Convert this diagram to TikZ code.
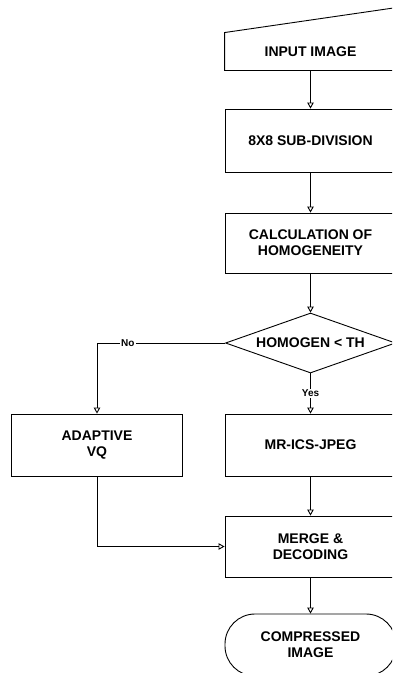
\documentclass[tikz,border=0pt]{standalone}
\usepackage{fontspec}
\setmainfont{Liberation Sans}
\usetikzlibrary{arrows.meta}
\usetikzlibrary{shapes}

\begin{document}
\begin{tikzpicture}[x=1pt, y=-1pt, line width=0.9pt, >={Triangle[open, width=6.5pt, length=6pt]},
    every node/.style={font=\bfseries\fontsize{14}{16}\selectfont, align=center},
    stage/.style={draw, rectangle, minimum width=171pt, minimum height=62pt, inner sep=0pt},
    choice/.style={draw, diamond, aspect=2.8, minimum width=170pt, minimum height=60pt, inner sep=0pt},
    ends/.style={draw, rectangle, rounded corners=30pt, minimum width=171pt, minimum height=62pt, inner sep=0pt},
    tag/.style={fill=white, inner sep=1.5pt, font=\bfseries\fontsize{10}{12}\selectfont}]
    \useasboundingbox (0,0) rectangle (392,673);
    \clip (0,0) rectangle (392,673);

    \node[stage, draw=none, minimum height=37pt] (In) at (310.5, 51.5) {INPUT IMAGE};
    \node[stage, minimum height=63pt] (Div)   at (310.5, 140.5) {8X8 SUB-DIVISION};
    \node[stage, minimum height=60pt] (Hom)   at (310.5, 243) {CALCULATION OF\\ HOMOGENEITY};
    \node[choice]                     (Th)    at (310.5, 343) {HOMOGEN < TH};
    \node[stage]                      (VQ)    at (97, 445)    {ADAPTIVE\\ VQ};
    \node[stage]                      (Jpeg)  at (310.5, 445) {MR-ICS-JPEG};
    \node[stage, minimum height=61pt] (Merge) at (310.5, 546.5) {MERGE \&\\ DECODING};
    \node[ends]                       (Out)   at (310.5, 645) {COMPRESSED\\ IMAGE};

    \draw (In.north west) -- ([yshift=25pt]In.north east) -- (In.south east) -- (In.south west) -- cycle;

    \draw[->] (In) to (Div);
    \draw[->] (Div) to (Hom);
    \draw[->] (Hom) to (Th);
    \draw[->] (Th.west) -| node[tag, pos=0.38] {No} (VQ.north);
    \draw[->] (Th.south) to node[tag, midway] {Yes} (Jpeg.north);
    \draw[->] (Jpeg) to (Merge);
    \draw[->] (VQ.south) |- (Merge.west);
    \draw[->] (Merge) to (Out);

\end{tikzpicture}
\end{document}
